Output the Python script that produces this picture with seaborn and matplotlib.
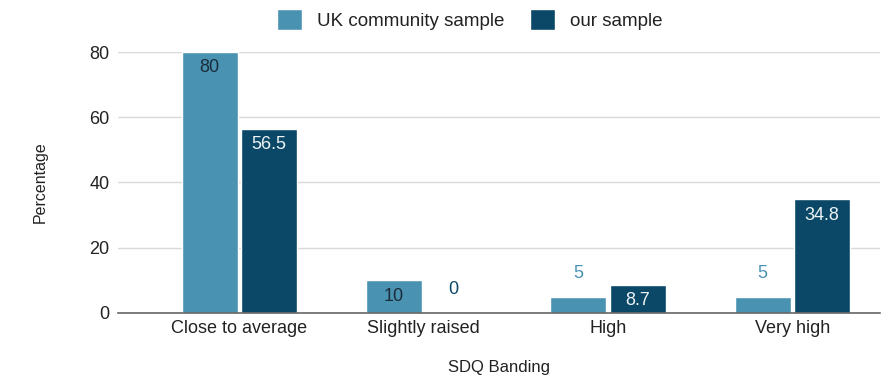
import pandas as pd
import seaborn as sns
import matplotlib.pyplot as plt

# SDQ banding data
categories = ['Close to average', 'Slightly raised', 'High', 'Very high']
uk_sample = [80, 10, 5, 5]
our_sample = [56.5, 0, 8.7, 34.8]
series_names = ['UK community sample', 'our sample']

light = '#4a92b2'
dark = '#0b4867'

df = pd.DataFrame({
    'SDQ Banding': categories * 2,
    'Percentage': uk_sample + our_sample,
    'Sample': [series_names[0]] * 4 + [series_names[1]] * 4,
})

sns.set_style('white')
plt.rcParams['font.family'] = ['Liberation Sans', 'DejaVu Sans']

fig = plt.figure(figsize=(8.94, 3.77), dpi=100)
ax = fig.add_axes([0.132, 0.170, 0.852, 0.692])

sns.barplot(data=df, x='SDQ Banding', y='Percentage', hue='Sample',
            palette=[light, dark], width=0.645, gap=0.06, ax=ax,
            saturation=1, legend=True)

ax.set_ylim(0, 80)
ax.set_xlim(-0.658, 3.473)
ax.set_yticks([0, 20, 40, 60, 80])
ax.yaxis.grid(True, color='#d9d9d9', linewidth=1)
ax.set_axisbelow(True)
for s in ['top', 'right', 'left']:
    ax.spines[s].set_visible(False)
ax.spines['bottom'].set_color('#666666')
ax.spines['bottom'].set_linewidth(1.2)
ax.tick_params(axis='both', length=0, labelsize=13, colors='#222222')
ax.tick_params(axis='x', pad=5)
ax.tick_params(axis='y', pad=6)
ax.set_ylabel('Percentage', fontsize=11.5, color='#222222', labelpad=30)
ax.set_xlabel('SDQ Banding', fontsize=12, color='#222222', labelpad=17)

# value labels: inside the bar top for taller bars, above for short ones
for cont, col, txt_in in zip(ax.containers, [light, dark], ['#1b2d3a', '#eef3f6']):
    for bar in cont:
        v = bar.get_height()
        x = bar.get_x() + bar.get_width() / 2
        lab = f'{v:g}'
        if v > 7:
            ax.annotate(lab, (x, v), xytext=(0, -11.5), textcoords='offset points',
                        ha='center', va='center', fontsize=13, color=txt_in)
        else:
            ax.annotate(lab, (x, v), xytext=(0, 16.5), textcoords='offset points',
                        ha='center', va='center', fontsize=13, color=col)

ax.legend(loc='lower center', bbox_to_anchor=(0.462, 1.02), ncol=2, frameon=False,
          fontsize=13.5, handlelength=1.3, handleheight=1.3, columnspacing=1.4,
          handletextpad=0.8, labelcolor='#222222')

fig.savefig('out.png', dpi=100)
